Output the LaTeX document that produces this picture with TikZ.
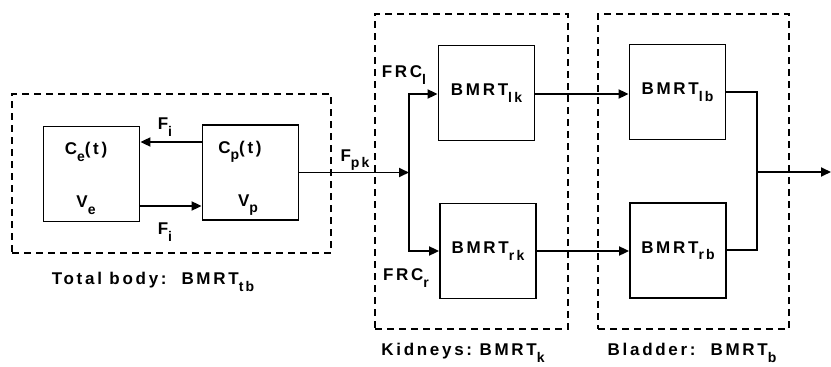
\documentclass[tikz,border=0pt]{standalone}
\usepackage{fontspec}
\setmainfont{Liberation Sans}[LetterSpace=16, BoldFont={Liberation Sans Bold}, BoldFeatures={LetterSpace=16}]
\usetikzlibrary{arrows.meta}
\newcommand\lo[1]{\raisebox{-0.38em}{\fontsize{14}{14}\selectfont #1}}
\tikzset{
  blk/.style={draw, line width=1.8pt, minimum width=96pt, minimum height=95pt, inner sep=0pt},
  grp/.style={draw, dashed, dash pattern=on 7pt off 5pt, line width=1.7pt, inner sep=0pt},
  lbl/.style={inner sep=0pt, font=\fontsize{17}{20}\selectfont\bfseries},
  ln/.style={line width=1.8pt},
  arr/.style={line width=1.8pt, -{Triangle[length=10pt,width=9pt]}},
}
\begin{document}
\begin{tikzpicture}[x=1pt,y=-1pt]
\useasboundingbox (0,0) rectangle (831,367);
% groups
\node[grp, minimum width=319pt, minimum height=159pt] (gtb) at (171.5,173.5) {};
\node[grp, minimum width=193pt, minimum height=315pt] (gk) at (471.5,171.5) {};
\node[grp, minimum width=191pt, minimum height=315pt] (gb) at (693.5,171.5) {};
% boxes
\node[blk, lbl] (lk) at (486.5,93) {BMRT\lo{lk}};
\node[blk, lbl] (rk) at (488,251) {BMRT\lo{rk}};
\node[blk, lbl] (lb) at (677.5,92) {BMRT\lo{lb}};
\node[blk, lbl] (rb) at (678,250.5) {BMRT\lo{rb}};
\node[blk] (ce) at (91.5,174) {};
\node[blk] (cp) at (250.5,172.5) {};
% inner texts
\node[lbl] (cet) at (86,152) {C\lo{e}(t)};
\node[lbl] (vet) at (86,205) {V\lo{e}};
\node[lbl] (cpt) at (240,152) {C\lo{p}(t)};
\node[lbl] (vpt) at (248,205) {V\lo{p}};
% flows
\draw[arr] (cp.west |- 0,142) -- (ce.east |- 0,142);
\draw[arr] (ce.east |- 0,206) -- (cp.west |- 0,206);
\node[lbl] (fi1) at (165,127) {F\lo{i}};
\node[lbl] (fi2) at (165,232) {F\lo{i}};
\coordinate (j) at (409,172.5);
\draw[arr] (cp.east) -- (j);
\node[lbl] (fpk) at (355,160) {F\lo{pk}};
\draw[arr] (j) |- (lk.west |- 0,94);
\draw[arr] (j) |- (rk.west |- 0,251);
\node[lbl] (frcl) at (404,75) {FRC\lo{l}};
\node[lbl] (frcr) at (406,278) {FRC\lo{r}};
\draw[arr] (lk.east |- 0,94) -- (lb.west |- 0,94);
\draw[arr] (rk.east |- 0,251) -- (rb.west |- 0,251);
\coordinate (m) at (757,172);
\coordinate (out) at (831,172);
\draw[ln] (lb.east |- 0,92) -| (m) |- (rb.east |- 0,250);
\draw[arr] (m) -- (out);
% captions
\node[lbl] (ctb) at (153,282) {Total body:\ \ BMRT\lo{tb}};
\node[lbl] (ck) at (463,353) {Kidneys:\ BMRT\lo{k}};
\node[lbl] (cb) at (692,353) {Bladder:\ \ BMRT\lo{b}};
\end{tikzpicture}
\end{document}
